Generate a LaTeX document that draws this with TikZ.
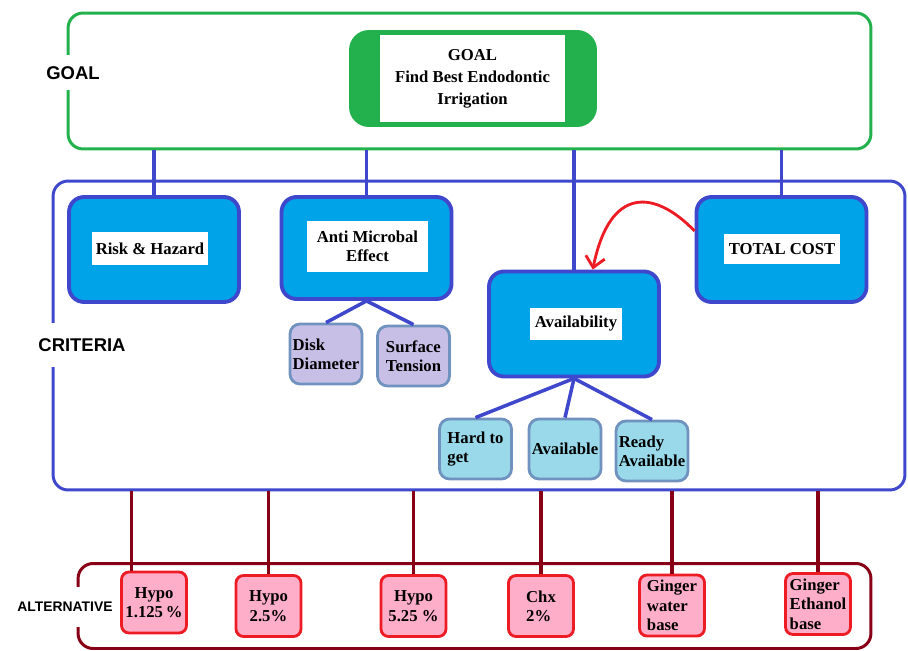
\documentclass[tikz,border=0pt]{standalone}
\usepackage{fontspec}
\setmainfont{Liberation Serif}
\setsansfont{Liberation Sans}
\usetikzlibrary{arrows.meta}
\definecolor{framegreen}{HTML}{22B14C}
\definecolor{critblue}{HTML}{3F48CC}
\definecolor{boxblue}{HTML}{00A2E8}
\definecolor{steel}{HTML}{7092BE}
\definecolor{lavender}{HTML}{C8BFE7}
\definecolor{paleblue}{HTML}{99D9EA}
\definecolor{altred}{HTML}{880015}
\definecolor{pinkfill}{HTML}{FFAEC9}
\definecolor{brightred}{HTML}{ED1C24}

\begin{document}
\begin{tikzpicture}[x=0.02cm,y=-0.02cm,
	txt/.style={font=\fontsize{9.5}{11}\selectfont\bfseries},
	framelbl/.style={fill=white,inner xsep=1pt,font=\sffamily\bfseries\fontsize{10.5}{12}\selectfont},
	critbox/.style={draw=critblue,fill=boxblue,line width=2.2pt,rounded corners=0.3cm,minimum width=3.4cm,minimum height=2.1cm},
	whitebox/.style={txt,fill=white,inner sep=0pt},
	subbox/.style={txt,draw=steel,line width=1.6pt,rounded corners=0.2cm,minimum width=1.44cm,minimum height=1.2cm,align=left,inner sep=1pt},
	altbox/.style={txt,draw=brightred,fill=pinkfill,line width=1.6pt,rounded corners=0.15cm,minimum width=1.3cm,minimum height=1.22cm,inner sep=1pt},
	bluelink/.style={draw=critblue,line width=2pt},
	redlink/.style={draw=altred,line width=2pt}]
	\useasboundingbox (0,0) rectangle (908,651);
	% frames
	\node[draw=framegreen,line width=1.7pt,rounded corners=0.3cm,minimum width=16.06cm,minimum height=2.72cm] (goalfr) at (469.5,81) {};
	\node[draw=critblue,line width=1.7pt,rounded corners=0.3cm,minimum width=17.04cm,minimum height=6.18cm] (crit) at (479,335.5) {};
	\node[draw=altred,line width=1.7pt,rounded corners=0.3cm,minimum width=15.86cm,minimum height=1.7cm] (altfr) at (474.5,606) {};
	\node[framelbl,minimum height=0.7cm] (goallbl) at (73,73) {GOAL};
	\node[framelbl,minimum height=0.88cm] (critlbl) at (82,345) {CRITERIA};
	\node[framelbl,minimum height=0.8cm,font=\sffamily\bfseries\fontsize{7.9}{9}\selectfont] (altlbl) at (65,607) {ALTERNATIVE};
	% goal
	\node[fill=framegreen,rounded corners=0.4cm,minimum width=4.96cm,minimum height=1.94cm] (goal) at (473,78.5) {};
	\node[whitebox,minimum width=3.7cm,minimum height=1.74cm,align=center,font=\fontsize{9.5}{12.5}\selectfont\bfseries] (goaltxt) at (472.5,78.5) {GOAL\\Find Best Endodontic\\Irrigation};
	% criteria
	\node[critbox] (risk) at (154,249.5) {};
	\node[whitebox,minimum width=2.32cm,minimum height=0.66cm] (risktxt) at (150,248.5) {Risk \& Hazard};
	\node[critbox,minimum height=2.04cm] (anti) at (366.5,248) {};
	\node[whitebox,minimum width=2.42cm,minimum height=1.02cm,align=center] (antitxt) at (367.5,246.5) {Anti Microbal\\Effect};
	\node[critbox] (avail) at (574,324) {};
	\node[whitebox,minimum width=1.84cm,minimum height=0.64cm] (availtxt) at (576,324) {Availability};
	\node[critbox] (cost) at (781.5,249.5) {};
	\node[whitebox,minimum width=2.32cm,minimum height=0.6cm] (costtxt) at (782,249) {TOTAL COST};
	% sub criteria
	\node[subbox,fill=lavender] (disk) at (326,354) {Disk\\Diameter};
	\node[subbox,fill=lavender] (surf) at (413.5,356) {Surface\\Tension};
	\node[subbox,fill=paleblue] (hard) at (475.5,449) {Hard to\\get};
	\node[subbox,fill=paleblue] (avail2) at (565,449) {Available};
	\node[subbox,fill=paleblue] (ready) at (652,451) {Ready\\Available};
	% alternatives
	\node[altbox,align=center] (hyp1) at (154,602.5) {Hypo\\1.125\,\%};
	\node[altbox,align=center] (hyp2) at (268.5,606) {Hypo\\2.5\%};
	\node[altbox,align=center] (hyp3) at (413.5,606) {Hypo\\5.25 \%};
	\node[altbox,align=left] (chx) at (541,606) {Chx\\2\%};
	\node[altbox,align=left] (ginw) at (672,605.5) {Ginger\\water\\base};
	\node[altbox,align=left] (gine) at (818,604) {Ginger\\Ethanol\\base};
	% links
	\foreach \n in {risk,anti,avail,cost}
		\draw[bluelink] (goalfr.south -| \n.north) -- (\n.north);
	\draw[bluelink] (anti.south) -- (disk.north);
	\draw[bluelink] (anti.south) -- (surf.north);
	\draw[bluelink] (avail.south) -- (hard.north);
	\draw[bluelink] (avail.south) -- (avail2.north);
	\draw[bluelink] (avail.south) -- (ready.north);
	\draw[redlink] (crit.south -| hyp1.125) -- (hyp1.125);
	\foreach \n in {hyp2,hyp3,chx,ginw,gine}
		\draw[redlink] (crit.south -| \n.north) -- (\n.north);
	\draw[brightred,line width=1.6pt,-{Straight Barb[length=6pt,width=11pt]}] (cost.168) .. controls (655,190) and (610,185) .. (avail.71);
\end{tikzpicture}
\end{document}
